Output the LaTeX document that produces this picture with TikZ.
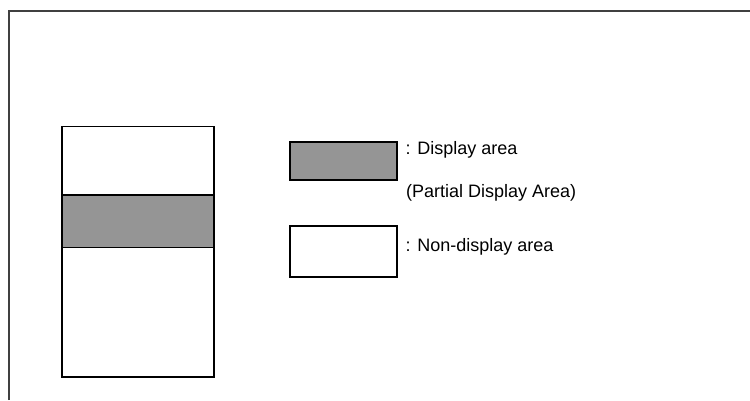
\documentclass[tikz,border=0pt]{standalone}
\usepackage{fontspec}
\setmainfont{Liberation Sans}
\begin{document}
\begin{tikzpicture}[x=1pt,y=-1pt,
  box/.style={draw=black,line width=1.6pt},
  disp/.style={box,fill=dispgray},
  lbl/.style={anchor=base west,inner sep=0pt,font=\fontsize{18}{21}\selectfont}]
\definecolor{dispgray}{HTML}{959595}
\definecolor{framegray}{HTML}{404040}
\useasboundingbox (0,0) rectangle (750,401);
% frame
\draw[framegray,line width=1.4pt] (9,400) -- (9,11) -- (750,11);
% panel
\draw[box] (62,126.5) rectangle (214,377);
\draw[disp] (62,195) rectangle (214,247.5);
% legend
\draw[disp] (290,142) rectangle (397,180);
\draw[box] (290,226) rectangle (397,277);
\node[lbl] (l1) at (405.5,155) {: Display area};
\node[lbl] (l2) at (406,197) {(Partial Display Area)};
\node[lbl] (l3) at (405.5,251) {: Non-display area};
\end{tikzpicture}
\end{document}
